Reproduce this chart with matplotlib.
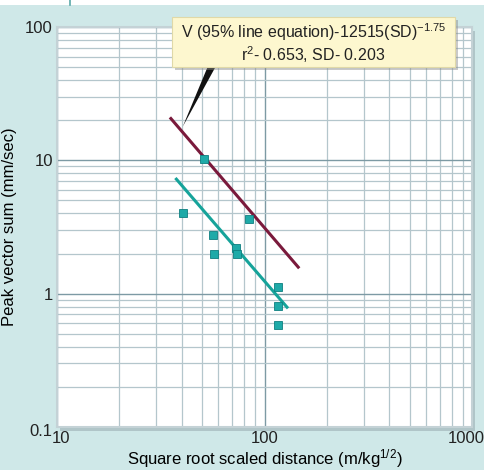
import matplotlib
matplotlib.use("Agg")
import matplotlib.pyplot as plt
from matplotlib.patches import Rectangle, Polygon
from matplotlib.ticker import LogLocator, NullFormatter, FixedLocator, FixedFormatter
from matplotlib.transforms import ScaledTranslation
import numpy as np

plt.rcParams['font.family'] = ['Liberation Sans', 'DejaVu Sans']
plt.rcParams['mathtext.fontset'] = 'custom'
plt.rcParams['mathtext.rm'] = 'Liberation Sans'
plt.rcParams['mathtext.it'] = 'Liberation Sans:italic'
plt.rcParams['mathtext.bf'] = 'Liberation Sans:bold'

# Data
sd_points = [51, 40.6, 56.7, 57.3, 73, 74, 84.5, 116.6, 116.6, 116.6]
v_points = [10.3, 4.05, 2.74, 2.0, 2.2, 2.0, 3.63, 1.13, 0.81, 0.58]
line95_sd = [35.0, 147.0]
line95_v = [21.0, 1.55]
line50_sd = [37.2, 129.8]
line50_v = [7.37, 0.776]
xticks = [10, 100, 1000]
xticklabels = ["10", "100", "1000"]
yticks = [0.1, 1, 10, 100]
yticklabels = ["0.1", "1", "10", "100"]

bg = "#cfe8e8"
fig = plt.figure(figsize=(4.85, 4.70), dpi=100)
fig.patch.set_facecolor(bg)
W, H = 485, 470

# top white strip
fig.add_artist(Rectangle((0, 1 - 5 / H), 1, 5 / H, transform=fig.transFigure,
                         facecolor="white", edgecolor="none", zorder=-1))
fig.add_artist(plt.Line2D([70 / W, 70 / W], [1 - 5 / H, 1], transform=fig.transFigure,
                          color="#5aa8a8", lw=1.2))

x0, x1, y0, y1 = 57, 472, 27, 427
ax = fig.add_axes([x0 / W, 1 - y1 / H, (x1 - x0) / W, (y1 - y0) / H])

# shadow behind axes
fig.add_artist(Rectangle(((x0 + 3) / W, 1 - (y1 + 4) / H), (x1 - x0) / W, (y1 - y0) / H,
                         transform=fig.transFigure, facecolor="#a3b7bb", edgecolor="none",
                         alpha=0.7, zorder=-1))

ax.set_facecolor("white")
ax.set_xscale("log")
ax.set_yscale("log")
ax.set_xlim(10, 1000)
ax.set_ylim(0.1, 100)

for s in ax.spines.values():
    s.set_color("#c4d2d6")
    s.set_linewidth(1.5)

ax.xaxis.set_major_locator(FixedLocator(xticks))
ax.xaxis.set_major_formatter(FixedFormatter(xticklabels))
ax.yaxis.set_major_locator(FixedLocator(yticks))
ax.yaxis.set_major_formatter(FixedFormatter(yticklabels))
ax.xaxis.set_minor_locator(LogLocator(base=10, subs=np.arange(2, 10)))
ax.yaxis.set_minor_locator(LogLocator(base=10, subs=np.arange(2, 10)))
ax.xaxis.set_minor_formatter(NullFormatter())
ax.yaxis.set_minor_formatter(NullFormatter())
ax.tick_params(which="both", length=0, labelsize=12, colors="#222222", pad=3)

ax.grid(which="minor", color="#b4c6cc", lw=0.9)
ax.grid(which="major", color="#7d9aa4", lw=1.0)
ax.set_axisbelow(True)

ax.plot(line95_sd, line95_v, color="#7a1a3c", lw=2.2, zorder=3, solid_capstyle="butt")
ax.plot(line50_sd, line50_v, color="#16a39a", lw=2.2, zorder=3, solid_capstyle="butt")
ax.plot(sd_points, v_points, ls="none", marker="s", ms=6, mfc="#1eaaa8",
        mec="#0e7f80", mew=0.6, zorder=4)

ax.set_xlabel("Square root scaled distance (m/kg$^{1/2}$)", fontsize=12, labelpad=1)
ax.set_ylabel("Peak vector sum (mm/sec)", fontsize=12, labelpad=6)

# nudge outer x tick labels like the reference
xt = ax.xaxis.get_major_ticks()
xt[0].label1.set_transform(xt[0].label1.get_transform() + ScaledTranslation(4 / 100, 0, fig.dpi_scale_trans))
xt[2].label1.set_transform(xt[2].label1.get_transform() + ScaledTranslation(-6 / 100, 0, fig.dpi_scale_trans))
yt = ax.yaxis.get_major_ticks()
yt[0].label1.set_transform(yt[0].label1.get_transform() + ScaledTranslation(0, -3 / 100, fig.dpi_scale_trans))

# annotation pointer
tip = (182.7, 126.7)
b1, b2 = (208, 66), (216, 66)
def fxy(p):
    return (p[0] / W, 1 - p[1] / H)
fig.add_artist(Polygon([fxy(tip), fxy(b1), fxy(b2)], closed=True, transform=fig.transFigure,
                       facecolor="#111111", edgecolor="none", zorder=5))

# annotation box
bx0, by0, bx1, by1 = 172, 17, 455, 67
fig.add_artist(Rectangle(((bx0 + 3) / W, 1 - (by1 + 3) / H), (bx1 - bx0) / W, (by1 - by0) / H,
                         transform=fig.transFigure, facecolor="#888888", alpha=0.45,
                         edgecolor="none", zorder=5))
fig.add_artist(Rectangle((bx0 / W, 1 - by1 / H), (bx1 - bx0) / W, (by1 - by0) / H,
                         transform=fig.transFigure, facecolor="#fdf7cf",
                         edgecolor="#e0d9a8", lw=0.8, zorder=6))
cx = (bx0 + bx1) / 2 / W
fig.text(cx, 1 - 32 / H, "V (95% line equation)-12515(SD)$^{-1.75}$", ha="center", va="center",
         fontsize=11.5, color="#222222", zorder=7)
fig.text(cx, 1 - 55 / H, "r$^{2}$- 0.653, SD- 0.203", ha="center", va="center",
         fontsize=11.5, color="#222222", zorder=7)

fig.savefig("out.png", dpi=100, facecolor=bg)
